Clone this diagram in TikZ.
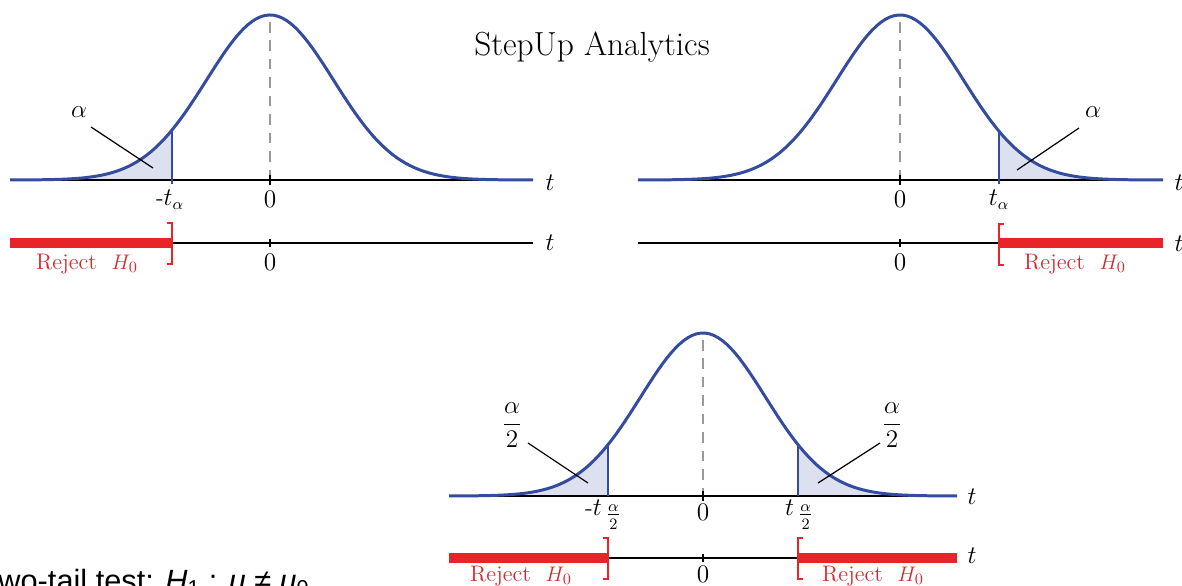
\documentclass[tikz,border=0pt]{standalone}
\usepackage{amsmath}
\usepackage{fontspec}
\newfontfamily\arialfont{Liberation Sans}
\usetikzlibrary{math}
\definecolor{cblue}{RGB}{52,76,160}
\definecolor{cshade}{RGB}{221,225,239}
\definecolor{rred}{RGB}{232,36,40}
\definecolor{rtext}{RGB}{214,40,48}

\tikzset{
  lbl/.style={font=\fontsize{13.5}{15}\selectfont, inner sep=0pt},
  rej/.style={font=\fontsize{12.8}{15}\selectfont, inner sep=0pt, text=rtext},
  axisline/.style={line width=0.85pt},
  bell/.style={cblue, line width=1.7pt},
  cutline/.style={cblue, line width=0.8pt},
  redbar/.style={rred, line width=6.2pt},
  brack/.style={rred, line width=0.9pt},
  lead/.style={line width=0.7pt},
  midline/.style={gray!80, line width=0.6pt, dash pattern=on 6pt off 4.5pt},
}

\begin{document}
\begin{tikzpicture}[x=0.02cm, y=-0.02cm]

\useasboundingbox (0,0) rectangle (1182,585);

\node[font=\fontsize{19}{22}\selectfont, anchor=base, inner sep=0pt] (title) at (592,55) {StepUp Analytics};

%left tail:
\tikzmath{
\cx = 270; \ay = 180; \ry = 243;
\h = 165; \s = 63.4;
\b = 172;
\by = \ay-\h*exp(-0.5*((\b-\cx)/\s)^2);
}
\coordinate (LA0) at (10,\ay);
\coordinate (LA1) at (533,\ay);
\coordinate (LB) at (\b,\ay);
\coordinate (LC) at (\b,\by);
\fill[cshade] (LA0) -- plot[domain=10:\b, samples=40] ({\x},{\ay-\h*exp(-0.5*((\x-\cx)/\s)^2)}) -- (LB) -- cycle;
\draw[axisline] (LA0) -- (LA1);
\draw[midline] (\cx,\ay-\h+7) -- (\cx,\ay);
\draw[axisline] (\cx,\ay-5) -- (\cx,\ay+5);
\draw[bell] plot[domain=10:533, samples=120] ({\x},{\ay-\h*exp(-0.5*((\x-\cx)/\s)^2)});
\draw[cutline] (LC) -- (\b,\ay+4);
\node[lbl] (LAt) at (550,183) {$t$};
\node[lbl] (LAz) at (\cx,199) {$0$};
\node[lbl] (LAb) at (170,200) {-$t_\alpha$};
\node[lbl] (LAal) at (79,112) {$\alpha$};
\coordinate (LL0) at (91,127);
\coordinate (LL1) at (153,168);
\draw[lead] (LL0) -- (LL1);
% reject line
\coordinate (LR0) at (10,\ry);
\coordinate (LR1) at (533,\ry);
\coordinate (LRB) at (\b,\ry);
\draw[axisline] (LRB) -- (LR1);
\draw[redbar] (LR0) -- (LRB);
\draw[brack] (\b-5,223) -- (\b,223) -- (\b,264) -- (\b-5,264);
\draw[axisline] (\cx,\ry-4) -- (\cx,\ry+4);
\node[lbl] (LRz) at (\cx,262) {$0$};
\node[lbl] (LRt) at (550,\ry) {$t$};
\node[rej] (LRr) at (87,264) {Reject\ \ $H_0$};

%right tail:
\tikzmath{
\cx = 900;
\b = 999;
\by = \ay-\h*exp(-0.5*((\b-\cx)/\s)^2);
}
\coordinate (RA0) at (638,\ay);
\coordinate (RA1) at (1163,\ay);
\coordinate (RB) at (\b,\ay);
\coordinate (RC) at (\b,\by);
\fill[cshade] (RB) -- plot[domain=\b:1163, samples=40] ({\x},{\ay-\h*exp(-0.5*((\x-\cx)/\s)^2)}) -- (RA1) -- cycle;
\draw[axisline] (RA0) -- (RA1);
\draw[midline] (\cx,\ay-\h+7) -- (\cx,\ay);
\draw[axisline] (\cx,\ay-5) -- (\cx,\ay+5);
\draw[bell] plot[domain=638:1163, samples=120] ({\x},{\ay-\h*exp(-0.5*((\x-\cx)/\s)^2)});
\draw[cutline] (RC) -- (\b,\ay+4);
\node[lbl] (RAt) at (1179,183) {$t$};
\node[lbl] (RAz) at (\cx,199) {$0$};
\node[lbl] (RAb) at (\b,200) {$t_\alpha$};
\node[lbl] (RAal) at (1093,112) {$\alpha$};
\coordinate (RL0) at (1079,128);
\coordinate (RL1) at (1017,170);
\draw[lead] (RL0) -- (RL1);
% reject line
\coordinate (RR0) at (638,\ry);
\coordinate (RR1) at (1163,\ry);
\coordinate (RRB) at (\b,\ry);
\draw[axisline] (RR0) -- (RRB);
\draw[redbar] (RRB) -- (RR1);
\draw[brack] (\b+5,224) -- (\b,224) -- (\b,265) -- (\b+5,265);
\draw[axisline] (\cx,\ry-4) -- (\cx,\ry+4);
\node[lbl] (RRz) at (\cx,262) {$0$};
\node[lbl] (RRt) at (1179,\ry+1) {$t$};
\node[rej] (RRr) at (1075,264) {Reject\ \ $H_0$};

%two tails:
\tikzmath{
\cx = 703; \ay = 496; \ry = 558;
\h = 163; \s = 62.5;
\b = 608; \c = 798;
\by = \ay-\h*exp(-0.5*((\b-\cx)/\s)^2);
}
\coordinate (TA0) at (449,\ay);
\coordinate (TA1) at (957,\ay);
\coordinate (TB) at (\b,\ay);
\coordinate (TC) at (\b,\by);
\coordinate (TD) at (\c,\ay);
\coordinate (TE) at (\c,\by);
\fill[cshade] (TA0) -- plot[domain=449:\b, samples=40] ({\x},{\ay-\h*exp(-0.5*((\x-\cx)/\s)^2)}) -- (TB) -- cycle;
\fill[cshade] (TD) -- plot[domain=\c:957, samples=40] ({\x},{\ay-\h*exp(-0.5*((\x-\cx)/\s)^2)}) -- (TA1) -- cycle;
\draw[axisline] (TA0) -- (TA1);
\draw[midline] (\cx,\ay-\h+7) -- (\cx,\ay);
\draw[axisline] (\cx,\ay-5) -- (\cx,\ay+5);
\draw[bell] plot[domain=449:957, samples=120] ({\x},{\ay-\h*exp(-0.5*((\x-\cx)/\s)^2)});
\draw[cutline] (TC) -- (TB);
\draw[cutline] (TE) -- (TD);
\node[lbl] (TAt) at (972,\ay+1) {$t$};
\node[lbl] (TAz) at (\cx,512) {$0$};
\node[lbl] (TAb) at (603,515) {-$t\,$\raisebox{-0.55ex}{$\frac{\alpha}{2}$}};
\node[lbl] (TAc) at (799,515) {$t\,$\raisebox{-0.55ex}{$\frac{\alpha}{2}$}};
\node[lbl] (TAl) at (512,425) {$\dfrac{\alpha}{2}$};
\node[lbl] (TAr) at (892,425) {$\dfrac{\alpha}{2}$};
\coordinate (TL0) at (528,443);
\coordinate (TL1) at (588,483);
\coordinate (TR0) at (880,443);
\coordinate (TR1) at (818,483);
\draw[lead] (TL0) -- (TL1);
\draw[lead] (TR0) -- (TR1);
% reject line
\coordinate (TR2) at (449,\ry);
\coordinate (TR3) at (957,\ry);
\coordinate (TRB) at (\b,\ry);
\coordinate (TRC) at (\c,\ry);
\draw[axisline] (TRB) -- (TRC);
\draw[redbar] (TR2) -- (TRB);
\draw[redbar] (TRC) -- (TR3);
\draw[brack] (\b-5,538) -- (\b,538) -- (\b,579) -- (\b-5,579);
\draw[brack] (\c+5,538) -- (\c,538) -- (\c,579) -- (\c+5,579);
\draw[axisline] (\cx,\ry-4) -- (\cx,\ry+4);
\node[lbl] (TRz) at (\cx,574) {$0$};
\node[lbl] (TRt) at (972,\ry-2) {$t$};
\node[rej] (TRl) at (521,576) {Reject\ \ $H_0$};
\node[rej] (TRr) at (873,576) {Reject\ \ $H_0$};

\node[font=\arialfont\fontsize{17.5}{20}\selectfont, anchor=base west, inner sep=0pt] (test) at (-19,591) {Two-tail test: \textit{H}\textsubscript{1} : \textit{μ} ≠ \textit{μ}\textsubscript{0}};

\end{tikzpicture}
\end{document}
